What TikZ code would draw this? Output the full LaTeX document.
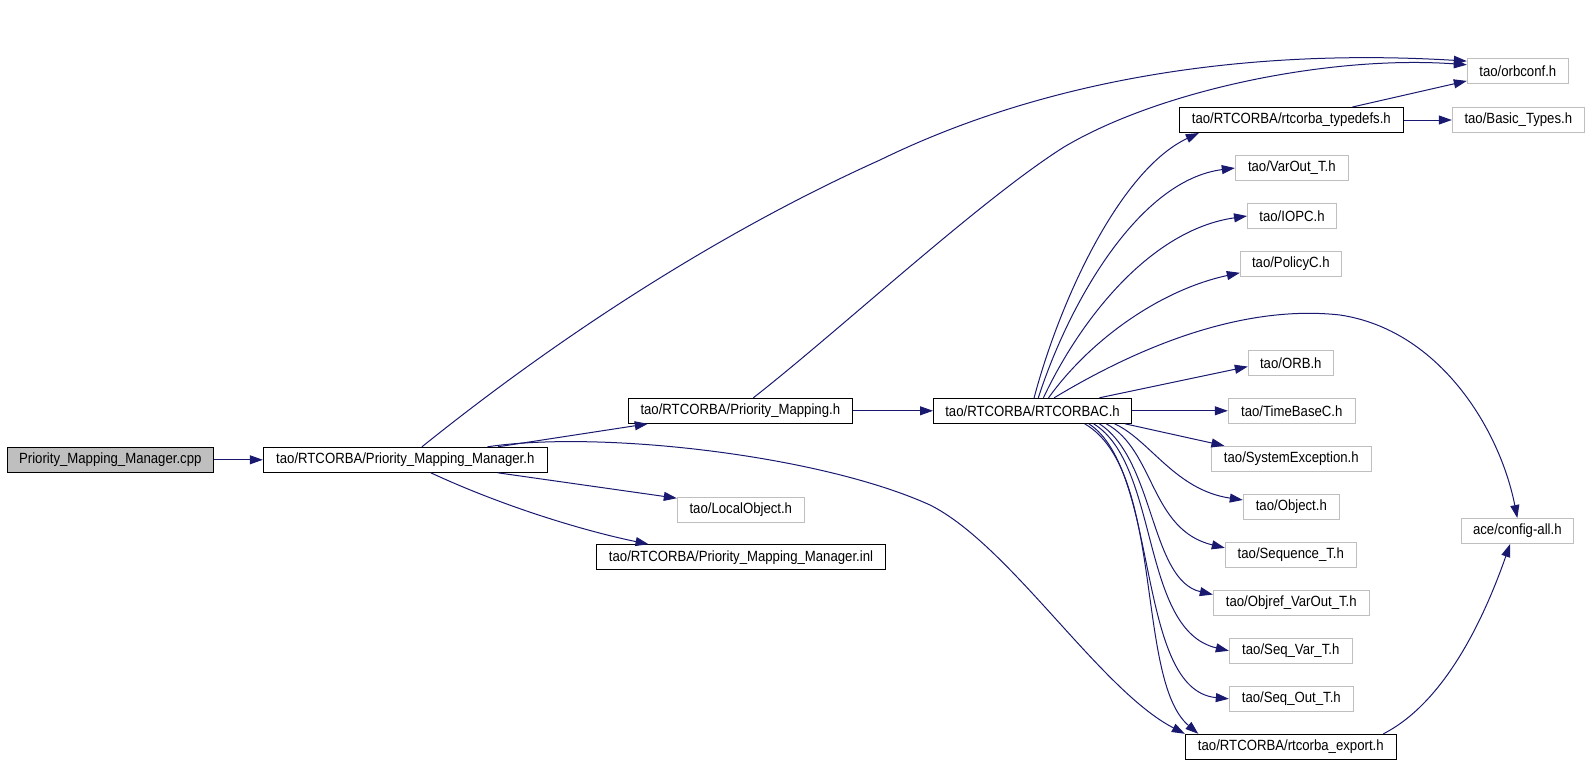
\documentclass[tikz,border=0pt]{standalone}
\usepackage{fontspec}
\setmainfont{Liberation Sans}
\newfontfamily\graphfamily[FakeStretch=0.89]{Liberation Sans}
\usetikzlibrary{arrows.meta}
\definecolor{edgeblue}{HTML}{191970}
\definecolor{extgray}{HTML}{BFBFBF}
\newcommand{\graphfont}{\graphfamily\fontsize{14.8}{16}\selectfont}
\begin{document}
\begin{tikzpicture}[x=1pt,y=-1pt,
  file/.style={draw=black, line width=1pt, minimum height=25pt, inner sep=0pt, font=\graphfont},
  ext/.style={file, draw=extgray},
  dep/.style={draw=edgeblue, line width=1pt, -{Triangle[length=13pt,width=9pt]}}]
\useasboundingbox (0,0) rectangle (1589,763);
\node[file, fill=extgray, minimum width=206pt] (cpp) at (110.3,459.8) {Priority\_Mapping\_Manager.cpp};
\node[file, minimum width=284pt] (pmm) at (405.3,459.8) {tao/RTCORBA/Priority\_Mapping\_Manager.h};
\node[file, minimum width=224pt] (pm) at (740.3,410.8) {tao/RTCORBA/Priority\_Mapping.h};
\node[ext, minimum width=127pt] (local) at (740.8,509.5) {tao/LocalObject.h};
\node[file, minimum width=289pt] (inl) at (741,557.2) {tao/RTCORBA/Priority\_Mapping\_Manager.inl};
\node[file, minimum width=198pt] (rtc) at (1032.5,410.8) {tao/RTCORBA/RTCORBAC.h};
\node[file, minimum width=211pt] (export) at (1290.8,746.8) {tao/RTCORBA/rtcorba\_export.h};
\node[ext, minimum width=101pt] (orbconf) at (1517.8,71) {tao/orbconf.h};
\node[file, minimum width=224pt] (typedefs) at (1291.3,120) {tao/RTCORBA/rtcorba\_typedefs.h};
\node[ext, minimum width=132pt] (basic) at (1518.3,120) {tao/Basic\_Types.h};
\node[ext, minimum width=113pt] (varout) at (1291.8,168) {tao/VarOut\_T.h};
\node[ext, minimum width=89pt] (iopc) at (1292,216) {tao/IOPC.h};
\node[ext, minimum width=101pt] (policy) at (1290.8,263.8) {tao/PolicyC.h};
\node[ext, minimum width=85pt] (orb) at (1290.8,362.8) {tao/ORB.h};
\node[ext, minimum width=127pt] (timebase) at (1291.8,410.8) {tao/TimeBaseC.h};
\node[ext, minimum width=160pt] (sysexc) at (1291.3,458.8) {tao/SystemException.h};
\node[ext, minimum width=96pt] (object) at (1291.3,506.8) {tao/Object.h};
\node[ext, minimum width=131pt] (sequence) at (1290.8,554.8) {tao/Sequence\_T.h};
\node[ext, minimum width=156pt] (objref) at (1291.3,602.8) {tao/Objref\_VarOut\_T.h};
\node[ext, minimum width=123pt] (seqvar) at (1290.8,650.8) {tao/Seq\_Var\_T.h};
\node[ext, minimum width=124pt] (seqout) at (1291.3,698.8) {tao/Seq\_Out\_T.h};
\node[ext, minimum width=112pt] (config) at (1517.3,531) {ace/config-all.h};
\path[dep] (cpp) -- (pmm);
\path[dep] (pmm.38) .. controls (561,335) and (720,232) .. (880,160) .. controls (1060,72) and (1267,49) .. (orbconf.169);
\path[dep] (pmm.8) -- (pm.188);
\path[dep] (pmm.9) .. controls (600,430) and (820,455) .. (930,505) .. controls (1010,545) and (1100,690) .. (export.173);
\path[dep] (pmm.-8) -- (local.170);
\path[dep] (pmm.-27) .. controls (500,505) and (580,530) .. (inl.172);
\path[dep] (pm.45) .. controls (840,330) and (980,200) .. (1064,147) .. controls (1160,90) and (1330,55) .. (orbconf.173);
\path[dep] (pm) -- (rtc);
\path[dep] (typedefs.12) -- (orbconf.191);
\path[dep] (typedefs) -- (basic);
\path[dep] (rtc.83) .. controls (1060,300) and (1120,170) .. (typedefs.188);
\path[dep] (rtc.66) .. controls (1070,300) and (1140,180) .. (varout.west);
\path[dep] (rtc.50) .. controls (1080,320) and (1150,230) .. (iopc.west);
\path[dep] (rtc.39) .. controls (1090,340) and (1160,290) .. (policy.190);
\path[dep] (rtc.31) .. controls (1150,340) and (1250,305) .. (1340,315) .. controls (1440,330) and (1500,430) .. (config.north);
\path[dep] (rtc.11) -- (orb.185);
\path[dep] (rtc) -- (timebase);
\path[dep] (rtc.-8) -- (sysexc.169);
\path[dep] (rtc.-9) .. controls (1150,440) and (1175,490) .. (object.172);
\path[dep] (rtc.-10) .. controls (1155,450) and (1150,530) .. (sequence.174);
\path[dep] (rtc.-11) .. controls (1155,460) and (1150,580) .. (objref.174);
\path[dep] (rtc.-12) .. controls (1160,465) and (1140,630) .. (seqvar.west);
\path[dep] (rtc.-13) .. controls (1160,470) and (1135,690) .. (seqout.west);
\path[dep] (rtc.-14) .. controls (1165,470) and (1135,680) .. (export.172);
\path[dep] (export.8) .. controls (1440,705) and (1480,630) .. (config.241);
\end{tikzpicture}
\end{document}
